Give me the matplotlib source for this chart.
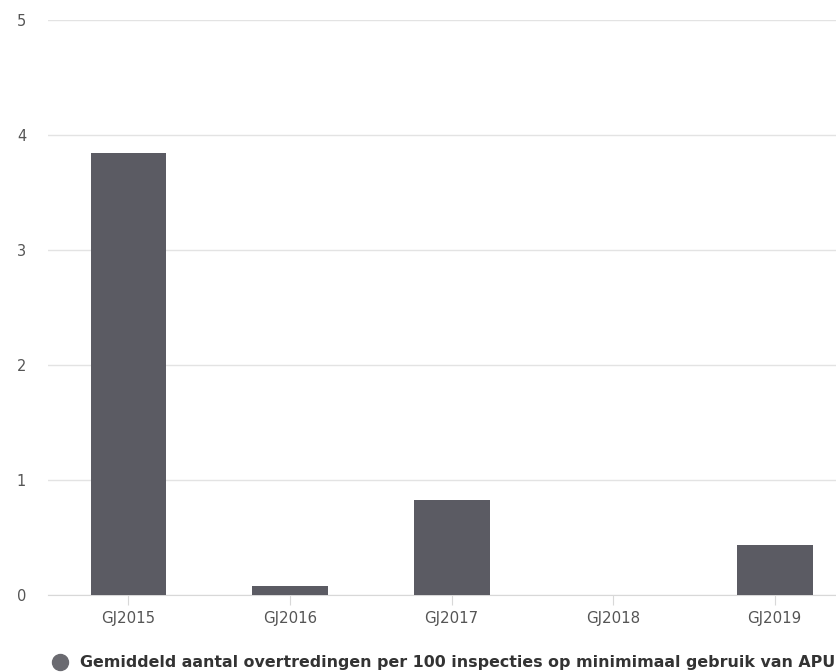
import matplotlib
matplotlib.use("Agg")
import matplotlib.pyplot as plt
from matplotlib.lines import Line2D

plt.rcParams["font.family"] = ["DejaVu Sans"]

categories = ["GJ2015", "GJ2016", "GJ2017", "GJ2018", "GJ2019"]
values = [3.84, 0.08, 0.82, 0.0, 0.43]
y_ticks = [0, 1, 2, 3, 4, 5]
series_name = "Gemiddeld aantal overtredingen per 100 inspecties op minimimaal gebruik van APU"

bar_color = "#5b5b63"
grid_color = "#e3e3e3"
label_color = "#555555"

fig = plt.figure(figsize=(8.37, 6.72), dpi=100)
ax = fig.add_axes([0.057, 0.115, 0.965, 0.855])

x = list(range(len(categories)))
ax.bar(x, values, width=0.47, color=bar_color, zorder=3)

ax.set_xlim(-0.5, len(categories) - 0.5)
ax.set_ylim(0, 5)
ax.set_yticks(y_ticks)
ax.set_yticklabels([str(t) for t in y_ticks])
ax.set_xticks(x)
ax.set_xticklabels(categories)

ax.grid(axis="y", color=grid_color, linewidth=1, zorder=0)
for side in ("top", "right", "left"):
    ax.spines[side].set_visible(False)
ax.spines["bottom"].set_color("#d8d8d8")
ax.tick_params(axis="y", length=0, pad=15.5, labelsize=10.5, labelcolor=label_color)
ax.tick_params(axis="x", length=7, width=0.8, color="#d8d8d8", pad=5,
               labelsize=10.8, labelcolor=label_color)

handle = Line2D([], [], marker="o", linestyle="none", markersize=11.5,
                markerfacecolor="#6a6a70", markeredgecolor="#6a6a70")
fig.legend([handle], [series_name], loc="center left",
           bbox_to_anchor=(0.0621, 0.0134), frameon=False,
           handlelength=1.0, handletextpad=0.8, borderpad=0, borderaxespad=0,
           prop={"weight": "bold", "size": 11.4}, labelcolor="#333333")

fig.savefig("out.png", dpi=100)
